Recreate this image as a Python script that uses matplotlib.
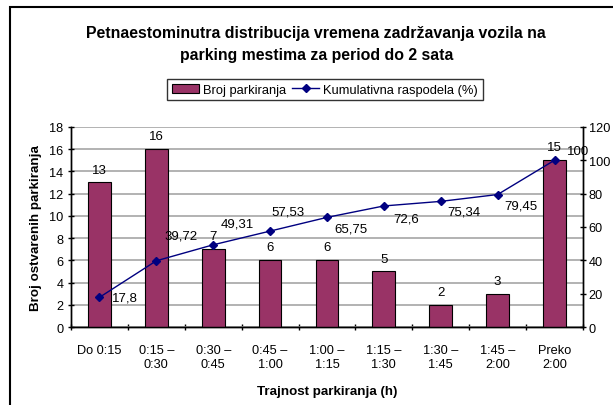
import matplotlib
matplotlib.use('Agg')
import matplotlib.pyplot as plt
from matplotlib.patches import Rectangle
from matplotlib.lines import Line2D
import numpy as np

plt.rcParams['font.family'] = ['Liberation Sans', 'DejaVu Sans']

# Data
categories = ['Do 0:15', '0:15 –\n0:30', '0:30 –\n0:45', '0:45 –\n1:00', '1:00 –\n1:15',
              '1:15 –\n1:30', '1:30 –\n1:45', '1:45 –\n2:00', 'Preko\n2:00']
counts = [13, 16, 7, 6, 6, 5, 2, 3, 15]
cumulative = [17.8, 39.72, 49.31, 57.53, 65.75, 72.6, 75.34, 79.45, 100]
cum_labels = ['17,8', '39,72', '49,31', '57,53', '65,75', '72,6', '75,34', '79,45', '100']

# label offsets for the line labels (points)
cum_offsets = [(18, 0), (18, 18), (17, 15), (13, 14), (17, -8), (16, -9), (17, -7), (17, -8), (17, 7)]

bar_color = '#993366'
line_color = '#000080'

fig = plt.figure(figsize=(6.13, 4.06), dpi=100)
ax = fig.add_axes([0.1158, 0.192, 0.8352, 0.493])
ax2 = ax.twinx()

x = np.arange(len(categories))
ax.bar(x, counts, width=0.4, color=bar_color, edgecolor='black', linewidth=0.8, zorder=3)
for xi, c in zip(x, counts):
    ax.annotate(str(c), (xi, c), xytext=(0, 5), textcoords='offset points',
                ha='center', va='bottom', fontsize=9.5)

ax2.plot(x, cumulative, color=line_color, linewidth=1, marker='D', markersize=4, zorder=4)
for xi, v, lab, off in zip(x, cumulative, cum_labels, cum_offsets):
    ax2.annotate(lab, (xi, v), xytext=off, textcoords='offset points',
                 ha='center', va='center', fontsize=9.5)

ax.set_xlim(-0.5, len(categories) - 0.5)
ax.set_ylim(0, 18)
ax.set_yticks(range(0, 19, 2))
ax2.set_ylim(0, 120)
ax2.set_yticks(range(0, 121, 20))

ax.yaxis.grid(True, color='#a6a6a6', linewidth=1.2, zorder=0)
ax.set_axisbelow(True)

ax.set_xticks(x)
ax.set_xticklabels(categories, fontsize=9.2)
ax.tick_params(axis='x', which='major', length=0, pad=12)
ax.set_xticks(np.arange(-0.5, len(categories), 1), minor=True)
ax.tick_params(axis='x', which='minor', length=5, direction='inout', width=1)
ax.tick_params(axis='y', labelsize=9.2, length=4, direction='inout', width=1)
ax2.tick_params(axis='y', labelsize=9.2, length=4, direction='inout', width=1, pad=2)

for a in (ax, ax2):
    a.spines['top'].set_visible(False)
    for s in ('left', 'right', 'bottom'):
        a.spines[s].set_linewidth(1)
        a.spines[s].set_color('black')

ax.set_ylabel('Broj ostvarenih parkiranja', fontsize=9.6, fontweight='bold', labelpad=5)
ax.set_xlabel('Trajnost parkiranja (h)', fontsize=9.6, fontweight='bold', labelpad=11)

fig.suptitle('Petnaestominutra distribucija vremena zadržavanja vozila na\nparking mestima za period do 2 sata',
             x=0.516, y=0.937, fontsize=11.4, fontweight='bold', linespacing=1.65)

handles = [Rectangle((0, 0), 1, 1, facecolor=bar_color, edgecolor='black', linewidth=0.8),
           Line2D([0], [0], color=line_color, marker='D', markersize=4, linewidth=1)]
leg = fig.legend(handles, ['Broj parkiranja', 'Kumulativna raspodela (%)'],
                 loc='center', bbox_to_anchor=(0.530, 0.777), ncol=2, fontsize=9.3,
                 frameon=True, fancybox=False, edgecolor='black', handlelength=2.1,
                 handletextpad=0.3, columnspacing=0.5, borderpad=0.35,
                 borderaxespad=0)
leg.get_frame().set_linewidth(1)

# outer chart frame (cut off at right and bottom as in the source)
frame = Rectangle((10 / 613, -0.1), 1.2, 1.08,
                  transform=fig.transFigure, fill=False, edgecolor='black', linewidth=1.5)
fig.patches.append(frame)

fig.savefig('out.png', dpi=100, facecolor='white')
